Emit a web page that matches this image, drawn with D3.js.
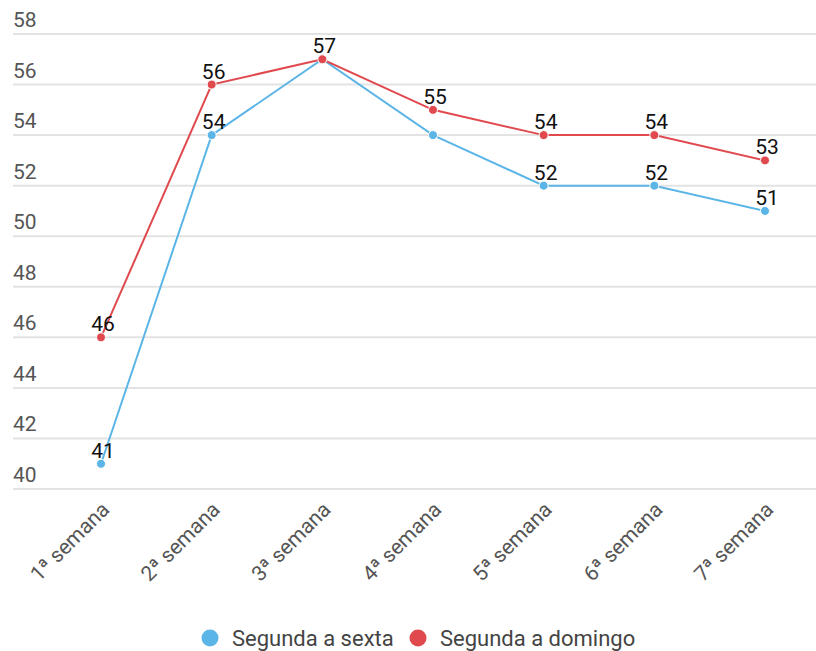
<!DOCTYPE html>
<html>
<head>
<meta charset="utf-8">
<script src="https://cdn.jsdelivr.net/npm/d3@7"></script>
<style>
  body { margin: 0; background: #fff; font-family: Roboto, "Noto Sans", sans-serif; }
  svg { display: block; }
</style>
</head>
<body>
<script>
// data
const weeks = ['1ª semana', '2ª semana', '3ª semana', '4ª semana', '5ª semana', '6ª semana', '7ª semana'];
const weekdays = [41, 54, 57, 54, 52, 52, 51];       // Segunda a sexta
const allDays = [46, 56, 57, 55, 54, 54, 53];        // Segunda a domingo
const weekdaysLabelShown = [true, true, false, false, true, true, true];
const yTicks = [40, 42, 44, 46, 48, 50, 52, 54, 56, 58];
const seriesNames = ['Segunda a sexta', 'Segunda a domingo'];

const width = 816, height = 651;
const blue = '#5bb5e6', red = '#e04a4f';

const svg = d3.select('body').append('svg')
  .attr('width', width)
  .attr('height', height);

const x = d3.scalePoint()
  .domain(weeks)
  .range([101, 765]);

const y = d3.scaleLinear()
  .domain([40, 58])
  .range([489, 34]);

/* grid + y labels */
const grid = svg.append('g').attr('class', 'grid');
grid.selectAll('line')
  .data(yTicks)
  .enter().append('line')
  .attr('x1', 13)
  .attr('x2', width)
  .attr('y1', d => y(d))
  .attr('y2', d => y(d))
  .attr('stroke', '#e3e3e3')
  .attr('stroke-width', 2);

grid.selectAll('text')
  .data(yTicks)
  .enter().append('text')
  .attr('x', 13)
  .attr('y', d => y(d) - 7)
  .attr('fill', '#555')
  .attr('font-size', 21)
  .text(d => d);

/* x axis labels, rotated */
const xAxis = d3.axisBottom(x).tickSize(0).tickPadding(0);
const xg = svg.append('g')
  .attr('transform', 'translate(0, 500)')
  .call(xAxis);
xg.select('.domain').remove();
xg.selectAll('text')
  .attr('fill', '#555')
  .attr('font-size', 21)
  .attr('font-family', 'Roboto, sans-serif')
  .attr('text-anchor', 'end')
  .attr('dy', 0)
  .attr('transform', 'translate(9, 11) rotate(-45)');

/* lines */
const line = d3.line()
  .x((d, i) => x(weeks[i]))
  .y(d => y(d));

function drawSeries(values, color) {
  const g = svg.append('g');
  g.append('path')
    .datum(values)
    .attr('d', line)
    .attr('fill', 'none')
    .attr('stroke', color)
    .attr('stroke-width', 2);
  g.selectAll('circle')
    .data(values)
    .enter().append('circle')
    .attr('cx', (d, i) => x(weeks[i]))
    .attr('cy', d => y(d))
    .attr('r', 4.5)
    .attr('fill', color)
    .attr('stroke', '#fff')
    .attr('stroke-width', 1);
  return g;
}

drawSeries(weekdays, blue);
drawSeries(allDays, red);

/* value labels */
const labels = svg.append('g')
  .attr('font-size', 21)
  .attr('fill', '#111')
  .attr('text-anchor', 'middle');

labels.selectAll('text.wd')
  .data(weekdays.map((v, i) => ({ v, i })).filter(d => weekdaysLabelShown[d.i]))
  .enter().append('text')
  .attr('class', 'wd')
  .attr('x', d => x(weeks[d.i]) + 2)
  .attr('y', d => y(d.v) - 6)
  .text(d => d.v);

labels.selectAll('text.ad')
  .data(allDays.map((v, i) => ({ v, i })))
  .enter().append('text')
  .attr('class', 'ad')
  .attr('x', d => x(weeks[d.i]) + 2)
  .attr('y', d => y(d.v) - 6)
  .text(d => d.v);

/* legend */
const legend = svg.append('g')
  .attr('transform', 'translate(0, 638)');
const legendX = [210, 418];
const legendColors = [blue, red];
seriesNames.forEach((name, i) => {
  legend.append('circle')
    .attr('cx', legendX[i])
    .attr('cy', 0)
    .attr('r', 8.5)
    .attr('fill', legendColors[i]);
  legend.append('text')
    .attr('x', legendX[i] + 22)
    .attr('y', 8)
    .attr('font-size', 22)
    .attr('fill', '#444')
    .text(name);
});
</script>
</body>
</html>
